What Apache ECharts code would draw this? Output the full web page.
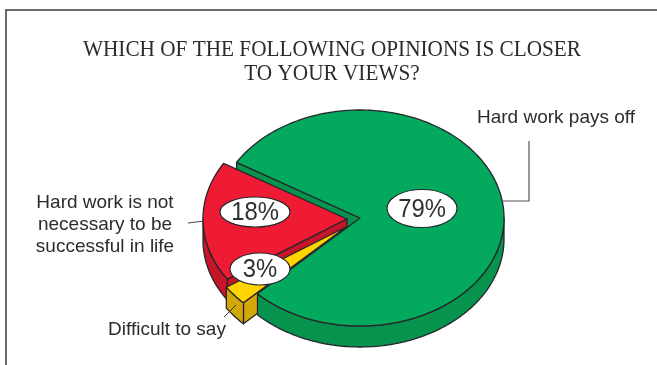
<!DOCTYPE html>
<html>
<head>
<meta charset="utf-8">
<style>html,body{margin:0;padding:0;background:#fff}#chart{width:657px;height:365px}</style>
<script src="https://cdn.jsdelivr.net/npm/echarts@6/dist/echarts.min.js"></script>
</head>
<body>
<div id="chart"></div>
<script>
// Survey answers, clockwise from the upper-left cut of the green slice.
const headline = 'WHICH OF THE FOLLOWING OPINIONS IS CLOSER\nTO YOUR VIEWS?';
const categories = ['Hard work pays off', 'Difficult to say', 'Hard work is not\nnecessary to be\nsuccessful in life'];
const shares = [79, 3, 18];
const sliceColors = ['#03a95c', '#ffd400', '#ef1b35'];
const wallColors = ['#05934d', '#d3a708', '#c81429'];

// Tilted-disc geometry in screen pixels.
const RX = 144, RY = 108, DEPTH = 21, START_DEG = 211;
const INK = '#26262a';
const sliceCentres = [[360, 218], [346, 227], [347, 219]];
const badgeCentres = [[422, 208.5], [260, 269], [255, 212]];
const badgeSizes = [[35, 19], [30, 16], [35, 15]];
const labelAnchors = [[477, 118], [108, 330], [105, 225]];
const labelAligns = ['left', 'left', 'center'];

// Turn each share into a start/end angle on the disc.
let running = START_DEG;
const slices = shares.map((v, i) => {
  const from = running;
  const to = running + v / shares.reduce((a, b) => a + b, 0) * 360;
  running = to;
  return { from, to, c: sliceCentres[i] };
});

const rim = (c, deg, dy) => {
  const r = deg * Math.PI / 180;
  return [c[0] + RX * Math.cos(r), c[1] + RY * Math.sin(r) + (dy || 0)];
};
const arc = (c, a, b, dy) => {
  const pts = [];
  const n = Math.max(2, Math.ceil(Math.abs(b - a)));
  for (let k = 0; k <= n; k++) pts.push(rim(c, a + (b - a) * k / n, dy));
  return pts;
};
const poly = (points, fill) => ({
  type: 'polygon', shape: { points },
  style: { fill, stroke: INK, lineWidth: 1.3, lineJoin: 'round' }
});

// Side wall along the front (lower) part of the rim.
function outerWall(i) {
  const s = slices[i], parts = [];
  for (const turn of [0, 360]) {
    const a = Math.max(s.from, turn), b = Math.min(s.to, turn + 180);
    if (b > a) {
      const top = arc(s.c, a, b, 0), bottom = arc(s.c, b, a, DEPTH);
      parts.push(poly(top.concat(bottom), wallColors[i]));
    }
  }
  return parts;
}
// Flat face exposed along a radial cut.
function cutWall(i, deg) {
  const s = slices[i], p = rim(s.c, deg, 0), q = rim(s.c, deg, DEPTH);
  return poly([s.c, p, q, [s.c[0], s.c[1] + DEPTH]], wallColors[i]);
}
const topFace = i => poly([slices[i].c].concat(arc(slices[i].c, slices[i].from, slices[i].to, 0)), sliceColors[i]);

// Painted back to front: green's cut face, red, yellow, then green's top and rim.
const paintSteps = [
  () => [cutWall(0, slices[0].from)],
  () => [cutWall(2, slices[2].from), ...outerWall(2), topFace(2)],
  () => [cutWall(1, slices[1].from), ...outerWall(1), topFace(1)],
  () => [...outerWall(0), topFace(0)]
];

const line = (points, stroke, lineWidth) => ({
  type: 'polyline', shape: { points },
  style: { fill: 'none', stroke, lineWidth }
});

const option = {
  animation: false,
  backgroundColor: '#ffffff',
  graphic: [
    { type: 'polyline', silent: true, shape: { points: [[6, 365], [6, 10], [657, 10]] }, style: { fill: 'none', stroke: '#3a3a3c', lineWidth: 1.5 } },
    {
      type: 'text', silent: true, x: 332, y: 62, scaleX: 0.904,
      style: { text: headline, x: 0, y: 0, textAlign: 'center', textVerticalAlign: 'middle', font: '23.5px "Liberation Serif"', lineHeight: 24.5, fill: '#2b2b2e' }
    }
  ],
  series: [
    {
      type: 'custom', coordinateSystem: 'none', silent: true,
      data: paintSteps.map((_, i) => i),
      renderItem: (params) => ({ type: 'group', children: paintSteps[params.dataIndex]() }),
      z: 2
    },
    {
      type: 'custom', coordinateSystem: 'none', silent: true,
      data: shares,
      renderItem: (params) => {
        const i = params.dataIndex, [cx, cy] = badgeCentres[i], [rx, ry] = badgeSizes[i];
        return {
          type: 'group', children: [
            { type: 'ellipse', shape: { cx, cy, rx, ry }, style: { fill: '#fff', stroke: INK, lineWidth: 1.2 } },
            { type: 'text', x: cx, y: cy + 1, scaleX: 0.9, style: { text: shares[i] + '%', x: 0, y: 0, textAlign: 'center', textVerticalAlign: 'middle', font: '26.5px "Liberation Sans"', fill: '#303033' } }
          ]
        };
      },
      z: 3
    },
    {
      type: 'custom', coordinateSystem: 'none', silent: true,
      data: categories,
      renderItem: (params) => {
        const i = params.dataIndex, [x, y] = labelAnchors[i];
        return { type: 'text', style: { text: categories[i], x, y, textAlign: labelAligns[i], textVerticalAlign: 'middle', font: '19px "Liberation Sans"', lineHeight: 22, fill: '#2c2c2f' } };
      },
      z: 4
    },
    {
      type: 'custom', coordinateSystem: 'none', silent: true,
      data: [0],
      renderItem: () => ({
        type: 'group', children: [
          line([[503, 201], [529, 201], [529, 141]], '#55555a', 1.2),
          line([[188, 223], [204, 221]], '#44444a', 1),
          line([[224, 317], [236, 305]], '#33332f', 1)
        ]
      }),
      z: 5
    }
  ]
};
echarts.init(document.getElementById('chart'), null, { renderer: 'canvas' }).setOption(option);
</script>
</body>
</html>
